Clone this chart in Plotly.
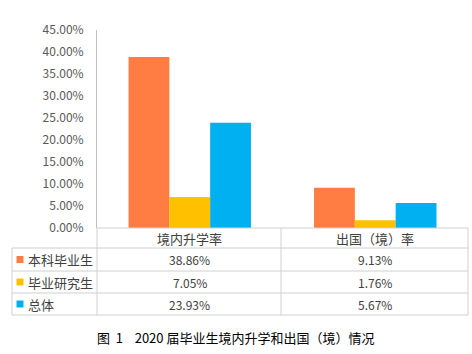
import plotly.graph_objects as go

categories = ["境内升学率", "出国（境）率"]
series_names = ["本科毕业生", "毕业研究生", "总体"]
undergrad = [38.86, 9.13]
graduate = [7.05, 1.76]
overall = [23.93, 5.67]
colors = ["#FF7C43", "#FFC000", "#00B0F0"]
caption = "图\u00a0\u00a01\u00a0\u00a0\u00a0\u00a02020\u00a0届毕业生境内升学和出国（境）情况"

W, H = 472, 354
L, R, T, B = 97, 4, 30, 126
PW, PH = W - L - R, H - T - B

def px(x):
    return (x - L) / PW

def py(y):
    return (H - B - y) / PH

series = [undergrad, graduate, overall]
fig = go.Figure()
for name, vals, c in zip(series_names, series, colors):
    fig.add_trace(go.Bar(x=categories, y=vals, name=name, marker=dict(color=c, line=dict(width=0))))

line_c = "#D0D0D0"
shapes = []
row_y = [228, 248, 271, 293, 315]
shapes.append(dict(type="line", xref="paper", yref="paper", x0=px(97), x1=px(468), y0=py(228), y1=py(228), line=dict(color=line_c, width=1)))
for yy in row_y[1:]:
    shapes.append(dict(type="line", xref="paper", yref="paper", x0=px(12), x1=px(468), y0=py(yy), y1=py(yy), line=dict(color=line_c, width=1)))
for xx in [97, 281, 468]:
    shapes.append(dict(type="line", xref="paper", yref="paper", x0=px(xx), x1=px(xx), y0=py(228), y1=py(315), line=dict(color=line_c, width=1)))
shapes.append(dict(type="line", xref="paper", yref="paper", x0=px(12), x1=px(12), y0=py(248), y1=py(315), line=dict(color=line_c, width=1)))

annotations = []
txt_c = "#404040"
for cat in categories:
    annotations.append(dict(x=cat, xref="x", y=py(238), yref="paper", text=cat, showarrow=False,
                            font=dict(size=13, color=txt_c, family="Noto Sans CJK SC"), xanchor="center", yanchor="middle"))
for i, (name, vals, c) in enumerate(zip(series_names, series, colors)):
    yc = (row_y[i + 1] + row_y[i + 2]) / 2
    shapes.append(dict(type="rect", xref="paper", yref="paper", x0=px(16.5), x1=px(23.5), y0=py(yc - 3.5), y1=py(yc + 3.5),
                       fillcolor=c, line=dict(width=0)))
    annotations.append(dict(x=px(26), xref="paper", y=py(yc), yref="paper", text=name, showarrow=False,
                            font=dict(size=13, color=txt_c, family="Noto Sans CJK SC"), xanchor="left", yanchor="middle"))
    for cat, v in zip(categories, vals):
        annotations.append(dict(x=cat, xref="x", y=py(yc), yref="paper", text=f"{v:.2f}%", showarrow=False,
                                font=dict(size=12, color=txt_c, family="Noto Sans CJK SC"), xanchor="center", yanchor="middle"))
annotations.append(dict(x=px(235), xref="paper", y=py(337), yref="paper", text=caption, showarrow=False,
                        font=dict(size=13, color="#000000", family="Noto Sans CJK SC"), xanchor="center", yanchor="middle"))

fig.update_layout(
    width=W, height=H, margin=dict(l=L, r=R, t=T, b=B),
    paper_bgcolor="white", plot_bgcolor="white",
    barmode="group", bargap=0.34, bargroupgap=0,
    showlegend=False,
    shapes=shapes, annotations=annotations,
    font=dict(family="Noto Sans CJK SC", color=txt_c),
)
fig.update_xaxes(showticklabels=False, showline=False, showgrid=False, zeroline=False, ticks="")
fig.update_yaxes(range=[0, 45], dtick=5, tickformat=".2f", ticksuffix="%", showgrid=False, zeroline=False,
                 showline=True, linecolor="#BFBFBF", linewidth=1, ticks="", ticklabelstandoff=10,
                 tickfont=dict(size=12, color="#595959", family="Noto Sans CJK SC"))
fig.write_html("out.html")
